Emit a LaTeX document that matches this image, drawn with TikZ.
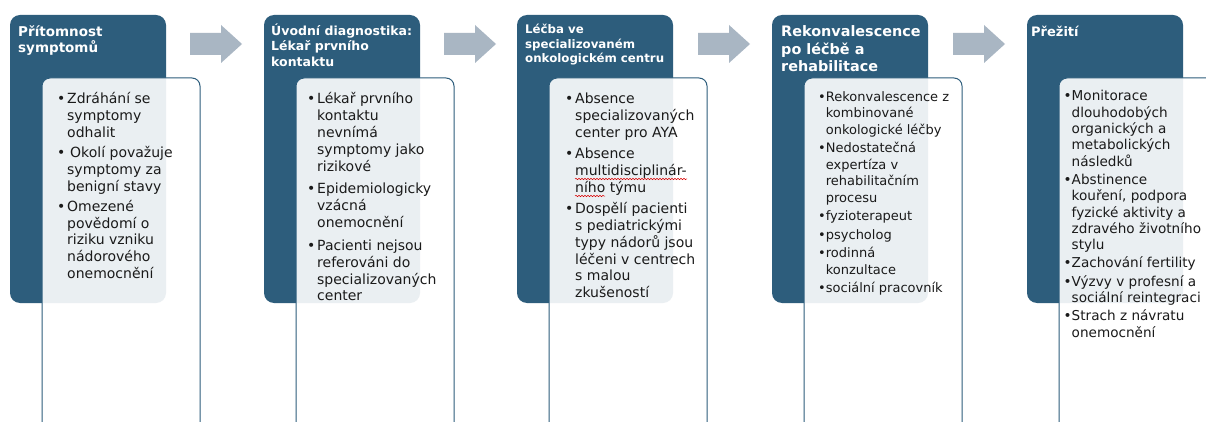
\documentclass[tikz,border=0pt]{standalone}
\usepackage{fontspec}
\setmainfont{DejaVu Sans}
\usetikzlibrary{decorations.pathmorphing}
\definecolor{hdrblue}{RGB}{45,93,124}
\definecolor{arrowgrey}{RGB}{169,182,195}
\definecolor{bodyink}{RGB}{26,26,26}
\newlength\myhang
\newcommand\BItem[1]{\hangindent=\myhang\hangafter=1\noindent\hbox to\myhang{\textbullet\hfil}#1\par}
\begin{document}
\begin{tikzpicture}[x=1pt,y=-1pt,
  darkbox/.style={fill=hdrblue, rounded corners=10pt},
  panel/.style={fill=white, fill opacity=0.9, draw=hdrblue, line width=1pt, rounded corners=8pt},
  flowarrow/.style={fill=arrowgrey},
  hdrtext/.style={anchor=base west, inner sep=0pt, text=white, font=\bfseries},
  bodynode/.style={anchor=base west, inner sep=0pt, text=bodyink},
  spellwave/.style={draw=red!85!black, line width=0.5pt, decorate, decoration={snake, amplitude=0.7pt, segment length=3pt}}]
\useasboundingbox (0,0) rectangle (1206,422);
\clip (0,0) rectangle (1206,422);
\fill[white] (0,0) rectangle (1206,422);
% columns
\foreach \x in {10,264,517,772,1027} {
  \fill[darkbox] (\x,15) rectangle ++(156,288);
  \path[panel] (\x+32,78) rectangle ++(158,370);
}
% arrows
\foreach \a in {190,444,698,953} {
  \fill[flowarrow] (\a,33) -- ++(31,0) -- ++(0,-8) -- ++(21,19) -- ++(-21,19) -- ++(0,-8) -- ++(-31,0) -- cycle;
}
% headers
\node[hdrtext] (h1) at (18,37) {\vtop{\hsize=150pt\fontsize{13.5}{15.6}\selectfont\parindent0pt Přítomnost\newline symptomů}};
\node[hdrtext] (h2) at (271,35.5) {\vtop{\hsize=150pt\fontsize{12.5}{15.3}\selectfont\parindent0pt Úvodní diagnostika:\newline Lékař prvního\newline kontaktu}};
\node[hdrtext] (h3) at (525,34) {\vtop{\hsize=150pt\fontsize{11.8}{14.5}\selectfont\parindent0pt Léčba ve\newline specializovaném\newline onkologickém centru}};
\node[hdrtext] (h4) at (781,37) {\vtop{\hsize=150pt\fontsize{14.4}{17.5}\selectfont\parindent0pt Rekonvalescence\newline po léčbě a\newline rehabilitace}};
\node[hdrtext] (h5) at (1031,37) {\vtop{\hsize=150pt\fontsize{13}{15.4}\selectfont\parindent0pt Přežití}};
% bodies
\node[bodynode] (b1) at (57,104) {\vtop{\hsize=170pt\fontsize{14}{16.8}\selectfont\parindent0pt\setlength\myhang{10pt}%
  \BItem{Zdráhání se\newline symptomy\newline odhalit}\vskip3.3pt
  \BItem{\hspace{3pt}Okolí považuje\newline symptomy za\newline benigní stavy}\vskip3.3pt
  \BItem{Omezené\newline povědomí o\newline riziku vzniku\newline nádorového\newline onemocnění}}};
\node[bodynode] (b2) at (307,104) {\vtop{\hsize=170pt\fontsize{14}{16.8}\selectfont\parindent0pt\setlength\myhang{10pt}%
  \BItem{Lékař prvního\newline kontaktu\newline nevnímá\newline symptomy jako\newline rizikové}\vskip6pt
  \BItem{Epidemiologicky\newline vzácná\newline onemocnění}\vskip6pt
  \BItem{Pacienti nejsou\newline referováni do\newline specializovaných\newline center}}};
\node[bodynode] (b3) at (565,104) {\vtop{\hsize=170pt\fontsize{14}{16.8}\selectfont\parindent0pt\setlength\myhang{10pt}%
  \BItem{Absence\newline specializovaných\newline center pro AYA}\vskip4.5pt
  \BItem{Absence\newline multidisciplinár-\newline ního týmu}\vskip4.5pt
  \BItem{Dospělí pacienti\newline s pediatrickými\newline typy nádorů jsou\newline léčeni v centrech\newline s malou\newline zkušeností}}};
\node[bodynode] (b4) at (818,101.5) {\vtop{\hsize=170pt\fontsize{13}{16.5}\selectfont\parindent0pt\settowidth\myhang{\textbullet}%
  \BItem{Rekonvalescence z\newline kombinované\newline onkologické léčby}\vskip2pt
  \BItem{Nedostatečná\newline expertíza v\newline rehabilitačním\newline procesu}\vskip2pt
  \BItem{fyzioterapeut}\vskip2pt
  \BItem{psycholog}\vskip2pt
  \BItem{rodinná\newline konzultace}\vskip2pt
  \BItem{sociální pracovník}}};
\node[bodynode] (b5) at (1063.5,101) {\vtop{\hsize=170pt\fontsize{13.6}{16.3}\selectfont\parindent0pt\settowidth\myhang{\textbullet}%
  \BItem{Monitorace\newline dlouhodobých\newline organických a\newline metabolických\newline následků}\vskip2pt
  \BItem{Abstinence\newline kouření, podpora\newline fyzické aktivity a\newline zdravého životního\newline stylu}\vskip2pt
  \BItem{Zachování fertility}\vskip2pt
  \BItem{Výzvy v profesní a\newline sociální reintegraci}\vskip2pt
  \BItem{Strach z návratu\newline onemocnění}}};
% spell-check underline
\path[spellwave] (575,179) -- (687,179);
\path[spellwave] (575,196) -- (605,196);
\end{tikzpicture}
\end{document}
